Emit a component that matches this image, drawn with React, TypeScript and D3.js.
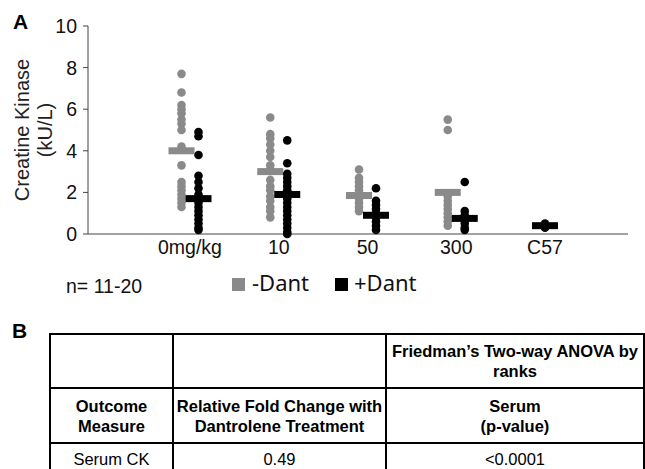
import React from 'react';
import * as d3 from 'd3';

// Panel A: serum creatine kinase (kU/L) per dose group
const categories = ['0mg/kg', '10', '50', '300', 'C57'];

const minusDant: number[][] = [
  [7.7, 6.8, 6.2, 6.0, 5.8, 5.5, 5.3, 5.0, 4.2, 3.3, 2.5, 2.3, 2.1, 1.9, 1.7, 1.5, 1.3],
  [5.6, 4.8, 4.6, 4.3, 4.0, 3.7, 3.3, 3.1, 2.6, 2.3, 2.1, 1.8, 1.6, 1.3, 1.1, 0.8],
  [3.1, 2.7, 2.5, 2.3, 2.1, 1.9, 1.7, 1.5, 1.3, 1.1],
  [5.5, 5.0, 1.8, 1.6, 1.4, 1.2, 1.0, 0.8, 0.6, 0.4],
  [],
];

const plusDant: number[][] = [
  [4.9, 4.7, 3.8, 2.8, 2.5, 2.2, 1.9, 1.7, 1.5, 1.3, 1.1, 0.9, 0.7, 0.5, 0.3, 0.2],
  [4.5, 3.4, 2.9, 2.7, 2.5, 2.3, 2.1, 1.9, 1.7, 1.5, 1.3, 1.1, 0.9, 0.7, 0.5, 0.3, 0.1, 0.0],
  [2.2, 1.6, 1.4, 1.2, 1.0, 0.8, 0.6, 0.4, 0.2],
  [2.5, 1.1, 0.9, 0.7, 0.5, 0.3, 0.2],
  [0.5, 0.4, 0.3],
];

const minusMeans: (number | null)[] = [4.0, 3.0, 1.85, 2.0, null];
const plusMeans: (number | null)[] = [1.7, 1.9, 0.9, 0.75, 0.4];

const yTicks = [0, 2, 4, 6, 8, 10];

// Panel B: table
const tableHeader1 = ['', '', ['Friedman\u2019s Two-way ANOVA by', 'ranks']];
const tableHeader2 = [['Outcome', 'Measure'], ['Relative Fold Change with', 'Dantrolene Treatment'], ['Serum', '(p-value)']];
const tableRow = ['Serum CK', '0.49', '<0.0001'];

const GRAY = '#8a8a8a';
const FONT = '"Liberation Sans", Arial, sans-serif';

const App: React.FC = () => {
  const width = 645;
  const height = 469;

  const y = d3.scaleLinear().domain([0, 10]).range([234, 26]);
  const x = d3.scalePoint<string>().domain(categories).range([190, 545]);
  const axisLeft = 88;
  const axisRight = 628;
  const off = 8.5;
  const r = 4.3;
  const barW = 26;
  const barH = 7;

  const cx = (i: number, side: -1 | 1) => {
    const c = x(categories[i]) as number;
    if (minusDant[i].length === 0) return c;
    return c + side * off;
  };

  // table geometry
  const colX = [50, 173, 386, 644];
  const rowY = [334, 388, 443, 480];

  const cellText = (lines: string[], col: number, row: number, bold: boolean, size: number, lh: number) => {
    const mx = (colX[col] + colX[col + 1]) / 2;
    const my = (rowY[row] + rowY[row + 1]) / 2;
    const top = my - ((lines.length - 1) * lh) / 2;
    return lines.map((l, k) => (
      <text
        key={`${row}-${col}-${k}`}
        x={mx}
        y={top + k * lh}
        textAnchor="middle"
        dominantBaseline="central"
        fontFamily={FONT}
        fontSize={size}
        fontWeight={bold ? 'bold' : 'normal'}
        fill="#000"
      >
        {l}
      </text>
    ));
  };

  return (
    <>
      <style>{`body{margin:0}`}</style>
      <svg width={width} height={height} viewBox={`0 0 ${width} ${height}`} style={{ display: 'block', background: '#fff' }}>
        {/* Panel label A */}
        <text x={13} y={29} fontFamily={FONT} fontSize={21} fontWeight="bold">A</text>

        {/* y axis */}
        <line x1={axisLeft} x2={axisLeft} y1={y(10)} y2={y(0)} stroke="#444" strokeWidth={1} />
        {yTicks.map(t => (
          <g key={t}>
            <line x1={axisLeft - 5} x2={axisLeft} y1={y(t)} y2={y(t)} stroke="#444" strokeWidth={1} />
            <text x={77} y={y(t)} textAnchor="end" dominantBaseline="central" fontFamily={FONT} fontSize={19.5} fill="#111">
              {t}
            </text>
          </g>
        ))}
        {/* x axis */}
        <line x1={axisLeft} x2={axisRight} y1={y(0)} y2={y(0)} stroke="#444" strokeWidth={1} />
        {categories.map(c => (
          <text key={c} x={x(c)} y={254} textAnchor="middle" fontFamily={FONT} fontSize={19.5} fill="#111">
            {c}
          </text>
        ))}

        {/* y axis title */}
        <g transform="translate(0,130)">
          <text transform="translate(22,0) rotate(-90)" textAnchor="middle" dominantBaseline="central" fontFamily={FONT} fontSize={20} fill="#222">
            Creatine Kinase
          </text>
          <text transform="translate(45,0) rotate(-90)" textAnchor="middle" dominantBaseline="central" fontFamily={FONT} fontSize={20} fill="#222">
            (kU/L)
          </text>
        </g>

        {/* -Dant points and means */}
        {minusDant.map((vals, i) =>
          vals.map((v, k) => <circle key={`m${i}-${k}`} cx={cx(i, -1)} cy={y(v)} r={r} fill={GRAY} />)
        )}
        {minusMeans.map((m, i) =>
          m == null ? null : (
            <rect key={`mm${i}`} x={cx(i, -1) - barW / 2} y={y(m) - barH / 2} width={barW} height={barH} fill={GRAY} />
          )
        )}
        {/* +Dant points and means */}
        {plusDant.map((vals, i) =>
          vals.map((v, k) => <circle key={`p${i}-${k}`} cx={cx(i, 1)} cy={y(v)} r={r} fill="#000" />)
        )}
        {plusMeans.map((m, i) =>
          m == null ? null : (
            <rect key={`pm${i}`} x={cx(i, 1) - barW / 2} y={y(m) - barH / 2} width={barW} height={barH} fill="#000" />
          )
        )}

        {/* legend */}
        <text x={66} y={293} fontFamily={FONT} fontSize={19.5} fill="#111">n= 11-20</text>
        <rect x={232} y={278} width={13} height={13} fill={GRAY} />
        <text x={252} y={291} fontFamily='"Noto Sans", "Open Sans", sans-serif' fontSize={22} fill="#111">-Dant</text>
        <rect x={335} y={278} width={13} height={13} fill="#000" />
        <text x={354} y={291} fontFamily='"Noto Sans", "Open Sans", sans-serif' fontSize={22} fill="#111">+Dant</text>

        {/* Panel label B */}
        <text x={12} y={338} fontFamily={FONT} fontSize={21} fontWeight="bold">B</text>

        {/* table grid */}
        {rowY.slice(0, 3).map(ry => (
          <line key={`h${ry}`} x1={colX[0] - 1} x2={colX[3] + 1} y1={ry} y2={ry} stroke="#000" strokeWidth={2} />
        ))}
        {colX.map(cxv => (
          <line key={`v${cxv}`} x1={cxv} x2={cxv} y1={rowY[0]} y2={height + 2} stroke="#000" strokeWidth={2} />
        ))}

        {tableHeader1.map((cell, col) =>
          Array.isArray(cell) ? cellText(cell, col, 0, true, 16.5, 20) : null
        )}
        {tableHeader2.map((cell, col) => cellText(cell, col, 1, true, 16.5, 20))}
        {tableRow.map((cell, col) => (
          <text
            key={`r${col}`}
            x={(colX[col] + colX[col + 1]) / 2}
            y={465}
            textAnchor="middle"
            fontFamily={FONT}
            fontSize={16.5}
            fill="#000"
          >
            {cell}
          </text>
        ))}
      </svg>
    </>
  );
};

export default App;
